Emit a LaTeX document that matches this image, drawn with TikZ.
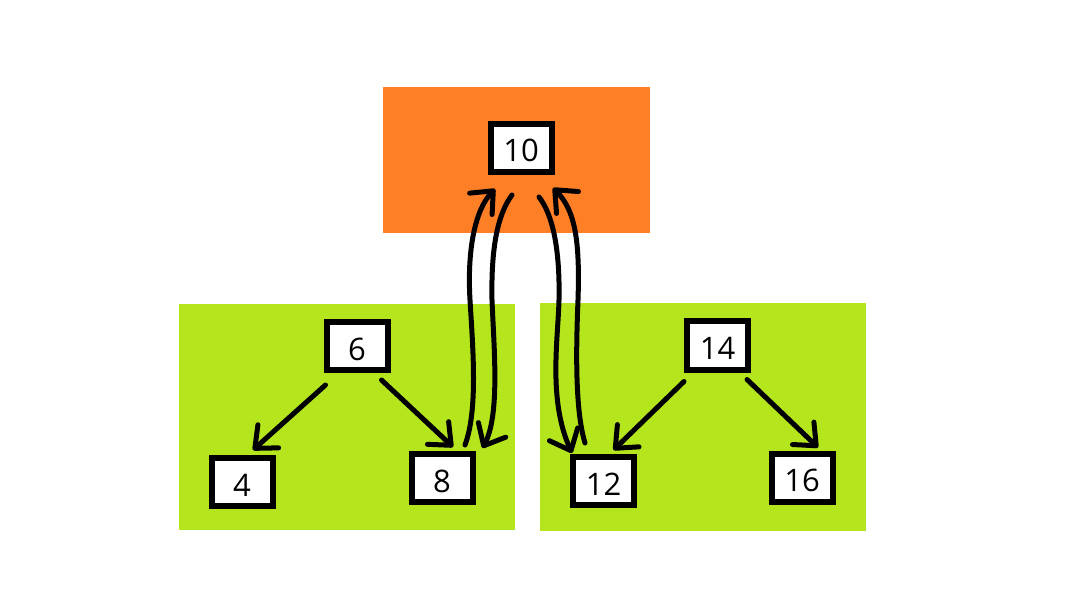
\documentclass[tikz,border=0pt]{standalone}
\usepackage{fontspec}
\setmainfont{Open Sans}
\usetikzlibrary{arrows.meta,calc}
\definecolor{paintorange}{HTML}{FF7F27}
\definecolor{paintlime}{HTML}{B5E61D}
\begin{document}
\begin{tikzpicture}[x=1pt,y=-1pt,
  numbox/.style={draw=black,fill=white,line width=6pt,minimum width=61pt,minimum height=48pt,
    inner sep=0pt,text height=28pt,text depth=0pt,font=\fontsize{31}{36}\selectfont},
  arr/.style={line width=5pt,line cap=round,-{Straight Barb[length=18pt,width=31pt,round]}}]
\useasboundingbox[fill=white] (0,0) rectangle (1089,609);
% coloured panels
\fill[paintorange] (383,87) rectangle (650,233);
\fill[paintlime] (179,304) rectangle (515,530);
\fill[paintlime] (540,303) rectangle (866,531);
% nodes
\node[numbox] (n10) at (521,148) {10};
\node[numbox] (n6)  at (357,346) {6};
\node[numbox] (n4)  at (242,482) {4};
\node[numbox] (n8)  at (442,478) {8};
\node[numbox] (n14) at (717.5,345.5) {14};
\node[numbox] (n12) at (603.5,481) {12};
\node[numbox] (n16) at (802,477.5) {16};
% tree edges
\draw[arr] ($(n6.south west)+(2,12)$) -- ($(n4.north)+(11,-5)$);
\draw[arr] ($(n6.south east)+(-9,7)$) -- ($(n8.north)+(11,-4)$);
\draw[arr] ($(n14.south west)+(0,9)$) -- ($(n12.north)+(10,-4)$);
\draw[arr] ($(n14.south east)+(-4,7)$) -- ($(n16.north)+(16,-3)$);
% links to and from the root
\draw[arr] ($(n8.north)+(23,-6)$) .. controls (478,410) and (473,350) .. (470,300)
  .. controls (467,250) and (475,210) .. ($(n10.south)+(-26,14)$);
\draw[arr] ($(n10.south)+(-9,20)$) .. controls (497,215) and (491,250) .. (492,300)
  .. controls (494,350) and (500,415) .. ($(n8.north east)+(7,-3)$);
\draw[arr] ($(n10.south)+(18,22)$) .. controls (553,215) and (560,250) .. (559,300)
  .. controls (558,340) and (548,400) .. ($(n12.north west)+(2,-1)$);
\draw[arr] ($(n12.north west)+(15,-11)$) .. controls (575,410) and (576,350) .. (578,300)
  .. controls (580,240) and (575,210) .. ($(n10.south)+(32,13)$);
\end{tikzpicture}
\end{document}
